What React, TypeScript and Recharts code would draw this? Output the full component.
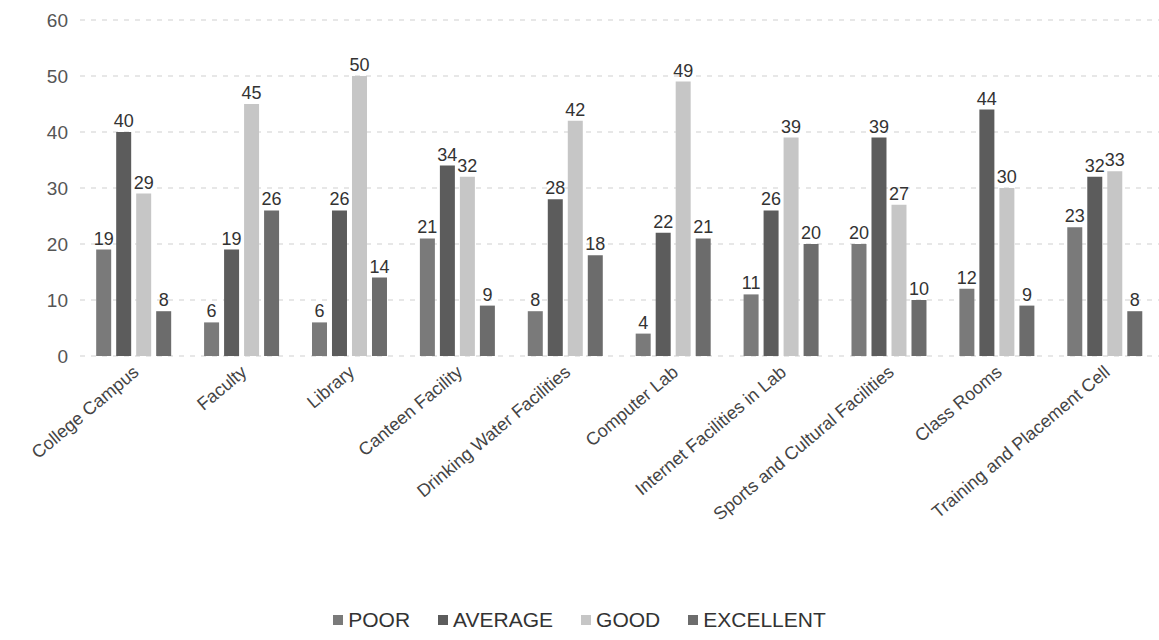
import React from "react";
import { Bar, BarChart, CartesianGrid, LabelList, Legend, XAxis, YAxis } from "recharts";

const categories = [
  "College Campus",
  "Faculty",
  "Library",
  "Canteen Facility",
  "Drinking Water Facilities",
  "Computer Lab",
  "Internet Facilities in Lab",
  "Sports and Cultural Facilities",
  "Class Rooms",
  "Training and Placement Cell",
];

const poor = [19, 6, 6, 21, 8, 4, 11, 20, 12, 23];
const average = [40, 19, 26, 34, 28, 22, 26, 39, 44, 32];
const good = [29, 45, 50, 32, 42, 49, 39, 27, 30, 33];
const excellent = [8, 26, 14, 9, 18, 21, 20, 10, 9, 8];

const yTicks = [0, 10, 20, 30, 40, 50, 60];

const data = categories.map((name, i) => ({
  name,
  POOR: poor[i],
  AVERAGE: average[i],
  GOOD: good[i],
  EXCELLENT: excellent[i],
}));

const series = [
  { key: "POOR", color: "#7a7a7a" },
  { key: "AVERAGE", color: "#5c5c5c" },
  { key: "GOOD", color: "#c6c6c6" },
  { key: "EXCELLENT", color: "#6c6c6c" },
];

const FONT = "Liberation Sans, Arial, sans-serif";

function CategoryTick({ x, y, payload }: any) {
  return (
    <g transform={`translate(${x + 6},${y + 10})`}>
      <text
        textAnchor="end"
        transform="rotate(-40)"
        fontSize={18}
        fill="#444"
        fontFamily={FONT}
      >
        {payload.value}
      </text>
    </g>
  );
}

function LegendContent() {
  return (
    <div
      style={{
        display: "flex",
        justifyContent: "center",
        gap: 28,
        fontFamily: FONT,
        fontSize: 21,
        color: "#333",
      }}
    >
      {series.map((s) => (
        <span key={s.key} style={{ display: "flex", alignItems: "center" }}>
          <span
            style={{
              display: "inline-block",
              width: 10,
              height: 10,
              background: s.color,
              marginRight: 5,
            }}
          />
          {s.key}
        </span>
      ))}
    </div>
  );
}

export default function App() {
  return (
    <div style={{ position: "absolute", left: 0, top: 0, background: "#fff" }}>
      <BarChart
        width={1159}
        height={640}
        data={data}
        margin={{ top: 20, right: 0, left: 0, bottom: 8 }}
        barCategoryGap="15%"
        barGap={5}
      >
        <CartesianGrid vertical={false} stroke="#cfcfcf" strokeDasharray="5 6" />
        <XAxis
          dataKey="name"
          axisLine={false}
          tickLine={false}
          interval={0}
          height={252}
          tick={<CategoryTick />}
        />
        <YAxis
          domain={[0, 60]}
          ticks={yTicks}
          axisLine={false}
          tickLine={false}
          width={80}
          tick={{ fontSize: 19, fill: "#555", fontFamily: FONT, dx: -4 }}
        />
        <Legend verticalAlign="bottom" content={<LegendContent />} />
        {series.map((s) => (
          <Bar key={s.key} dataKey={s.key} fill={s.color} isAnimationActive={false}>
            <LabelList
              dataKey={s.key}
              position="top"
              fontSize={18}
              fill="#333"
              fontFamily={FONT}
            />
          </Bar>
        ))}
      </BarChart>
    </div>
  );
}
